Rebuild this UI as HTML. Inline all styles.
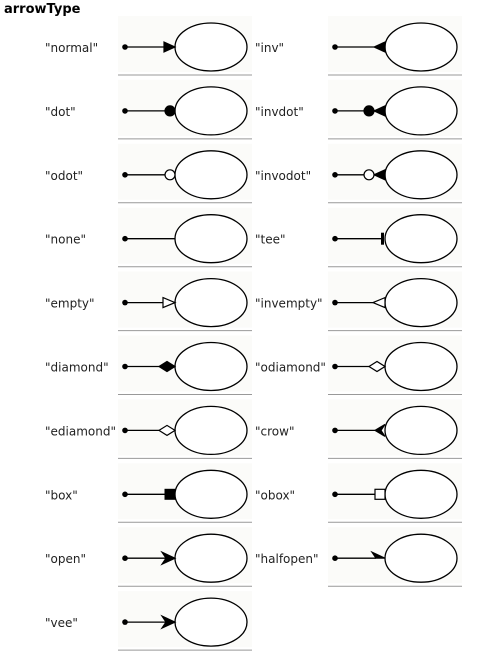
<!DOCTYPE html>
<html><head><meta charset="utf-8"><style>
body{margin:0;background:#fff;width:477px;height:657px;overflow:hidden;font-family:"DejaVu Sans","Liberation Sans",sans-serif}
svg text{font-family:"DejaVu Sans","Liberation Sans",sans-serif}
</style></head><body>
<svg id="s" width="477" height="657">
<text x="4" y="13" font-size="13" font-weight="bold" fill="#000">arrowType</text>
</svg>
<script>
const leftNames=["normal","dot","odot","none","empty","diamond","ediamond","box","open","vee"];
const rightNames=["inv","invdot","invodot","tee","invempty","odiamond","crow","obox","halfopen"];
const svg=document.getElementById('s');
const NS='http://www.w3.org/2000/svg';
function mk(tag,attrs,parent){const e=document.createElementNS(NS,tag);for(const k in attrs)e.setAttribute(k,attrs[k]);(parent||svg).appendChild(e);return e;}
function arrow(g,type,ex,cy){
  const st={stroke:'#000','stroke-width':1.2};
  const poly=(pts,fill)=>mk('polygon',Object.assign({points:pts.map(p=>p.join(',')).join(' '),fill},st),g);
  let lineEnd=ex;
  switch(type){
    case 'normal':poly([[ex-11,cy-5],[ex,cy],[ex-11,cy+5]],'#000');lineEnd=ex-11;break;
    case 'inv':poly([[ex-11,cy],[ex,cy-5],[ex,cy+5]],'#000');lineEnd=ex-11;break;
    case 'dot':mk('circle',Object.assign({cx:ex-5,cy,r:5,fill:'#000'},st),g);lineEnd=ex-10;break;
    case 'odot':mk('circle',Object.assign({cx:ex-5,cy,r:5,fill:'#fff'},st),g);lineEnd=ex-10;break;
    case 'invdot':poly([[ex-11,cy],[ex,cy-5],[ex,cy+5]],'#000');mk('circle',Object.assign({cx:ex-16,cy,r:5,fill:'#000'},st),g);lineEnd=ex-21;break;
    case 'invodot':poly([[ex-11,cy],[ex,cy-5],[ex,cy+5]],'#000');mk('circle',Object.assign({cx:ex-16,cy,r:5,fill:'#fff'},st),g);lineEnd=ex-21;break;
    case 'none':break;
    case 'tee':mk('rect',{x:ex-4,y:cy-6,width:3,height:12,fill:'#000'},g);lineEnd=ex-3;break;
    case 'empty':poly([[ex-12,cy-5],[ex,cy],[ex-12,cy+5]],'#fff');lineEnd=ex-12;break;
    case 'invempty':poly([[ex-12,cy],[ex,cy-5],[ex,cy+5]],'#fff');lineEnd=ex-12;break;
    case 'diamond':poly([[ex-16,cy],[ex-8,cy-5],[ex,cy],[ex-8,cy+5]],'#000');lineEnd=ex-16;break;
    case 'odiamond':case 'ediamond':poly([[ex-16,cy],[ex-8,cy-5],[ex,cy],[ex-8,cy+5]],'#fff');lineEnd=ex-16;break;
    case 'crow':poly([[ex-10,cy],[ex,cy-6],[ex-4,cy],[ex,cy+6]],'#000');lineEnd=ex-10;break;
    case 'box':mk('rect',{x:ex-10,y:cy-5,width:10,height:10,fill:'#000',stroke:'#000'},g);lineEnd=ex-10;break;
    case 'obox':mk('rect',{x:ex-10,y:cy-5,width:10,height:10,fill:'#fff',stroke:'#000','stroke-width':1.2},g);lineEnd=ex-10;break;
    case 'open':case 'vee':poly([[ex-13,cy-6],[ex,cy],[ex-13,cy+6],[ex-9,cy]],'#000');lineEnd=ex-9;break;
    case 'halfopen':poly([[ex-13,cy-6],[ex,cy],[ex-9,cy]],'#000');lineEnd=ex-9;break;
  }
  mk('line',{x1:125+(g._off||0),y1:cy,x2:lineEnd,y2:cy,stroke:'#000','stroke-width':1.3},g);
}
function cell(name,i,col){
  const off=col*210;
  const cy=47+i*63.9;
  const g=mk('g',{});
  g._off=off;
  
  
  const t=mk('text',{x:45+off,y:cy+5,'font-size':12,fill:'#222'},g);
  t.textContent='"'+name+'"';
  
  
  mk('rect',{x:118+off,y:cy-31,width:134,height:56,fill:'#fbfbf9'},g);
  mk('line',{x1:118+off,y1:cy+28,x2:252+off,y2:cy+28,stroke:'#999','stroke-width':1},g);
  mk('ellipse',{cx:211+off,cy,rx:36,ry:24,fill:'#fff',stroke:'#000','stroke-width':1.3},g);
  arrow(g,name,175+off,cy);
  mk('circle',{cx:125+off,cy,r:2.8,fill:'#000'},g);
}
leftNames.forEach((n,i)=>cell(n,i,0));
rightNames.forEach((n,i)=>cell(n,i,1));
</script>
</body></html>
